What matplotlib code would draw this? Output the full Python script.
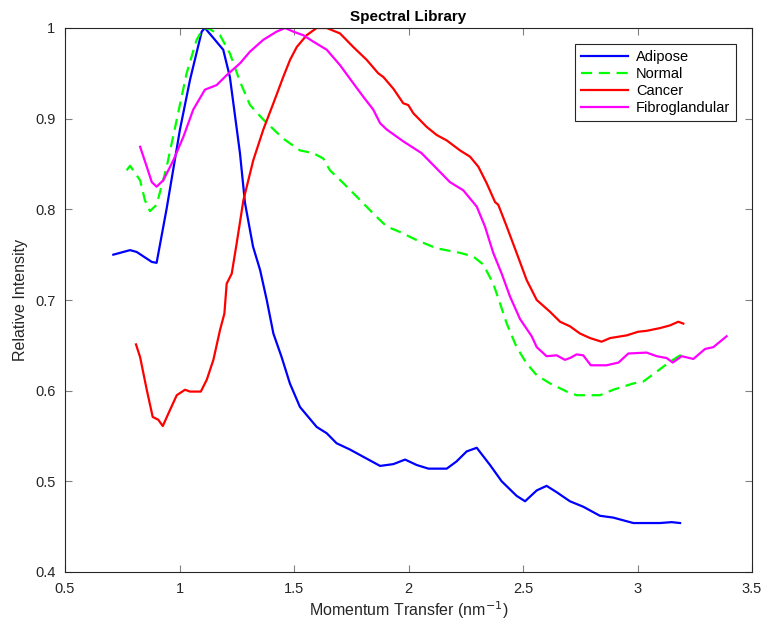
import matplotlib
matplotlib.use("Agg")
import matplotlib.pyplot as plt

plt.rcParams['font.family'] = ['Liberation Sans', 'DejaVu Sans']

adipose_x = [0.711, 0.784, 0.813, 0.879, 0.900, 0.944, 1.002, 1.046, 1.097, 1.111, 1.148, 1.191, 1.220,
             1.264, 1.286, 1.321, 1.352, 1.381, 1.410, 1.446, 1.482, 1.526, 1.599, 1.643, 1.686, 1.745,
             1.803, 1.876, 1.934, 1.985, 2.036, 2.087, 2.167, 2.210, 2.254, 2.298, 2.356, 2.407, 2.472,
             2.509, 2.560, 2.603, 2.647, 2.705, 2.763, 2.836, 2.894, 2.982, 3.098, 3.149, 3.186]
adipose_y = [0.750, 0.755, 0.753, 0.742, 0.741, 0.801, 0.888, 0.943, 0.996, 1.000, 0.989, 0.976, 0.946,
             0.862, 0.807, 0.759, 0.733, 0.700, 0.663, 0.637, 0.608, 0.582, 0.560, 0.553, 0.542, 0.535,
             0.527, 0.517, 0.519, 0.524, 0.518, 0.514, 0.514, 0.522, 0.533, 0.537, 0.518, 0.500, 0.484,
             0.478, 0.490, 0.495, 0.488, 0.478, 0.472, 0.462, 0.460, 0.454, 0.454, 0.455, 0.454]

normal_x = [0.769, 0.784, 0.828, 0.849, 0.871, 0.900, 0.944, 0.988, 1.031, 1.075, 1.104, 1.130, 1.177,
            1.220, 1.264, 1.308, 1.366, 1.453, 1.526, 1.584, 1.628, 1.657, 1.715, 1.774, 1.832, 1.868,
            1.905, 1.963, 2.036, 2.123, 2.225, 2.283, 2.327, 2.370, 2.400, 2.429, 2.472, 2.516, 2.560,
            2.618, 2.691, 2.734, 2.836, 2.894, 2.982, 3.025, 3.084, 3.142, 3.193]
normal_y = [0.843, 0.848, 0.832, 0.810, 0.798, 0.805, 0.847, 0.899, 0.950, 0.987, 1.000, 0.999, 0.992,
            0.972, 0.941, 0.915, 0.899, 0.878, 0.865, 0.862, 0.856, 0.843, 0.829, 0.814, 0.799, 0.790,
            0.781, 0.775, 0.766, 0.757, 0.752, 0.748, 0.739, 0.718, 0.696, 0.674, 0.648, 0.630, 0.617,
            0.608, 0.599, 0.595, 0.595, 0.601, 0.608, 0.610, 0.621, 0.632, 0.640]

cancer_x = [0.810, 0.828, 0.857, 0.883, 0.907, 0.927, 0.959, 0.988, 1.024, 1.046, 1.093, 1.119, 1.148,
            1.177, 1.196, 1.206, 1.228, 1.250, 1.279, 1.322, 1.366, 1.410, 1.453, 1.483, 1.512, 1.555,
            1.599, 1.643, 1.701, 1.759, 1.817, 1.868, 1.890, 1.934, 1.977, 1.999, 2.021, 2.079, 2.123,
            2.167, 2.225, 2.269, 2.305, 2.341, 2.378, 2.392, 2.429, 2.472, 2.516, 2.560, 2.618, 2.662,
            2.705, 2.749, 2.793, 2.843, 2.880, 2.953, 3.003, 3.040, 3.098, 3.142, 3.178, 3.200]
cancer_y = [0.651, 0.637, 0.601, 0.571, 0.568, 0.561, 0.579, 0.595, 0.601, 0.599, 0.599, 0.612, 0.634,
            0.667, 0.685, 0.718, 0.729, 0.763, 0.810, 0.854, 0.888, 0.917, 0.946, 0.965, 0.979, 0.992,
            1.000, 1.000, 0.994, 0.979, 0.965, 0.950, 0.946, 0.933, 0.917, 0.915, 0.906, 0.891, 0.882,
            0.876, 0.865, 0.858, 0.847, 0.829, 0.808, 0.805, 0.781, 0.752, 0.722, 0.700, 0.687, 0.676,
            0.671, 0.663, 0.658, 0.654, 0.658, 0.661, 0.665, 0.666, 0.669, 0.672, 0.676, 0.674]

fibro_x = [0.828, 0.857, 0.879, 0.900, 0.929, 0.973, 1.017, 1.060, 1.111, 1.162, 1.206, 1.264, 1.308,
           1.366, 1.424, 1.461, 1.497, 1.541, 1.584, 1.643, 1.701, 1.759, 1.803, 1.846, 1.876, 1.905,
           1.977, 2.057, 2.123, 2.181, 2.239, 2.298, 2.334, 2.370, 2.407, 2.443, 2.487, 2.538, 2.560,
           2.603, 2.647, 2.683, 2.705, 2.734, 2.763, 2.796, 2.865, 2.917, 2.960, 3.040, 3.084, 3.127,
           3.154, 3.193, 3.244, 3.295, 3.331, 3.389]
fibro_y = [0.869, 0.847, 0.830, 0.825, 0.832, 0.854, 0.880, 0.910, 0.932, 0.937, 0.948, 0.961, 0.974,
           0.987, 0.996, 1.000, 0.996, 0.992, 0.985, 0.976, 0.959, 0.939, 0.924, 0.910, 0.895, 0.888,
           0.875, 0.862, 0.845, 0.830, 0.821, 0.803, 0.781, 0.752, 0.729, 0.704, 0.679, 0.660, 0.648,
           0.638, 0.639, 0.634, 0.636, 0.640, 0.639, 0.628, 0.628, 0.631, 0.641, 0.642, 0.638, 0.636,
           0.631, 0.638, 0.635, 0.646, 0.648, 0.660]

xticks = [0.5, 1, 1.5, 2, 2.5, 3, 3.5]
yticks = [0.4, 0.5, 0.6, 0.7, 0.8, 0.9, 1.0]
xtick_labels = ['0.5', '1', '1.5', '2', '2.5', '3', '3.5']
ytick_labels = ['0.4', '0.5', '0.6', '0.7', '0.8', '0.9', '1']

fig = plt.figure(figsize=(7.64, 6.27), dpi=100)
ax = fig.add_axes([65 / 764, 1 - 572 / 627, 687 / 764, 544 / 627])

ax.plot(adipose_x, adipose_y, color=(0, 0, 1), lw=1.6, label='Adipose')
ax.plot(normal_x, normal_y, color=(0, 1, 0), lw=1.6, ls=(0, (5, 3)), label='Normal')
ax.plot(cancer_x, cancer_y, color=(1, 0, 0), lw=1.6, label='Cancer')
ax.plot(fibro_x, fibro_y, color=(1, 0, 1), lw=1.6, label='Fibroglandular')

ax.set_xlim(0.5, 3.5)
ax.set_ylim(0.4, 1.0)
ax.set_xticks(xticks)
ax.set_xticklabels(xtick_labels)
ax.set_yticks(yticks)
ax.set_yticklabels(ytick_labels)
ax.tick_params(direction='in', top=True, right=True, length=5, width=0.8,
               labelsize=10.5, color='#808080', labelcolor='#262626')
ax.tick_params(axis='y', pad=7)
ax.tick_params(axis='x', pad=7.5)
for s in ax.spines.values():
    s.set_color('#262626')
    s.set_linewidth(0.8)

ax.set_title('Spectral Library', fontsize=11, fontweight='bold', pad=5)
ax.set_xlabel('Momentum Transfer (nm$^{-1}$)', fontsize=11.5, color='#262626', labelpad=2)
ax.set_ylabel('Relative Intensity', fontsize=11.5, color='#262626', labelpad=5)

leg = ax.legend(loc='upper right', bbox_to_anchor=(1 - 16 / 687, 1 - 16 / 544), borderaxespad=0,
                fancybox=False, edgecolor='#262626', framealpha=1, fontsize=10.5, handlelength=3.2,
                borderpad=0.4, labelspacing=0.22, handletextpad=0.55)
leg.get_frame().set_linewidth(0.8)

fig.savefig('out.png', dpi=100)
